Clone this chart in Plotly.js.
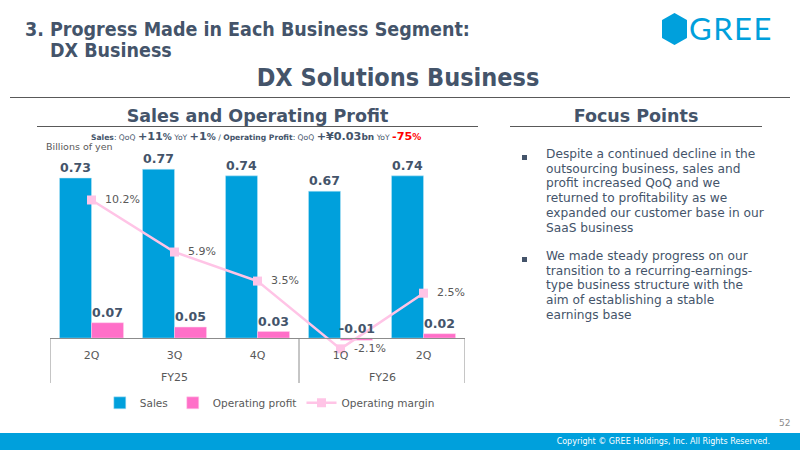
<!DOCTYPE html>
<html><head><meta charset="utf-8">
<script src="https://cdn.plot.ly/plotly-3.0.1.min.js"></script>
<style>
body{margin:0;width:800px;height:450px;overflow:hidden;background:#fff;position:relative;font-family:"DejaVu Sans",Verdana,sans-serif;color:#44546A;}
.abs{position:absolute;white-space:nowrap;}
.cond{font-family:"DejaVu Sans Condensed","DejaVu Sans",sans-serif;font-stretch:condensed;font-weight:bold;}
#chart{position:absolute;left:0;top:0;width:800px;height:450px;}
.bul{position:absolute;left:546px;font-size:12.2px;line-height:14.7px;color:#44546A;white-space:nowrap;}
.sq{position:absolute;left:522px;width:5px;height:5px;background:#44546A;}
</style></head><body>
<div id="chart"></div>

<div class="abs cond" style="left:25px;top:18px;font-size:19.5px;">3. Progress Made in Each Business Segment:</div>
<div class="abs cond" style="left:50px;top:39px;font-size:19.5px;">DX Business</div>
<svg class="abs" style="left:660px;top:12px;" width="30" height="36" viewBox="0 0 30 36">
  <polygon points="14.5,2 26,8.5 26,25.5 14.5,32 3,25.5 3,8.5" fill="#00A0DC" stroke="#00A0DC" stroke-width="2" stroke-linejoin="round"/>
</svg>
<div class="abs" style="left:689px;top:9px;font-family:Lato,'Open Sans',sans-serif;font-size:31px;font-weight:400;color:#00A0DC;letter-spacing:1.5px;">GREE</div>

<div class="abs cond" style="left:0;width:796px;text-align:center;top:63px;font-size:25px;">DX Solutions Business</div>
<div class="abs" style="left:10px;top:97px;width:780px;height:1px;background:#595959;"></div>

<div class="abs" style="left:37px;width:441px;text-align:center;top:106px;font-size:17.5px;font-weight:bold;">Sales and Operating Profit</div>
<div class="abs" style="left:37px;top:126px;width:441px;height:1px;background:#595959;"></div>
<div class="abs" style="left:510px;width:252px;text-align:center;top:106px;font-size:17.5px;font-weight:bold;">Focus Points</div>
<div class="abs" style="left:510px;top:126px;width:252px;height:1px;background:#595959;"></div>

<div class="abs" style="left:91px;top:130px;font-size:7.6px;color:#44546A;">
<b>Sales</b>: QoQ <b style="font-size:11.2px;">+11</b><b style="font-size:9px;">%</b> YoY <b style="font-size:11.2px;">+1</b><b style="font-size:9px;">%</b> / <b>Operating Profit</b>: QoQ <b style="font-size:11.2px;">+¥0.03</b><b style="font-size:9px;">bn</b> YoY <b style="font-size:11.2px;color:#FF0000;">-75</b><b style="font-size:9px;color:#FF0000;">%</b>
</div>
<div class="abs" style="left:46px;top:141px;font-size:9.5px;color:#595959;">Billions of yen</div>

<div class="sq" style="top:155px;"></div>
<div class="bul" style="top:147px;">Despite a continued decline in the<br>outsourcing business, sales and<br>profit increased QoQ and we<br>returned to profitability as we<br>expanded our customer base in our<br>SaaS business</div>
<div class="sq" style="top:257px;"></div>
<div class="bul" style="top:249px;">We made steady progress on our<br>transition to a recurring-earnings-<br>type business structure with the<br>aim of establishing a stable<br>earnings base</div>

<div class="abs" style="left:779px;top:418px;font-size:9px;color:#8c8c8c;">52</div>
<div class="abs" style="left:0;top:433px;width:800px;height:17px;background:#00A0DC;"></div>
<div class="abs" style="left:0;width:770px;text-align:right;top:437px;font-size:8px;color:#fff;">Copyright © GREE Holdings, Inc. All Rights Reserved.</div>

<script>
// ---- data ----
const fiscalYears = ['FY25', 'FY25', 'FY25', 'FY26', 'FY26'];
const quarters = ['2Q', '3Q', '4Q', '1Q', '2Q'];
const sales = [0.73, 0.77, 0.74, 0.67, 0.74];
const opProfit = [0.07, 0.05, 0.03, -0.01, 0.02];
const opMargin = [10.2, 5.9, 3.5, -2.1, 2.5];
const seriesNames = ['Sales', 'Operating profit', 'Operating margin'];

// ---- style ----
const BLUE = '#00A0DC', PINK = '#FF6FC8', LIGHTPINK = '#FFC4E6';
const TXT = '#44546A', GREY = '#595959', LINEC = '#8c8c8c';
const BARGAP = 0.229;
const AXIS_POS = 0.1048;   // x-axis (zero line) position in paper fraction
const BOX_BOTTOM = -0.1095; // bottom of category box
const FY_Y = -0.081;
const labelFont = {family: 'DejaVu Sans', size: 12.5, color: TXT};

const idx = quarters.map((_, i) => i);
const fmt = v => '<b>' + v.toFixed(2) + '</b>';

const traces = [
  {type: 'bar', name: seriesNames[0], x: idx, y: sales, marker: {color: BLUE, line: {color: '#BFE7F6', width: 0.5}},
   text: sales.map(fmt), textposition: 'outside', textfont: labelFont, cliponaxis: false, hoverinfo: 'skip'},
  {type: 'bar', name: seriesNames[1], x: idx, y: opProfit, marker: {color: PINK, line: {color: '#FFD0EC', width: 0.5}},
   text: opProfit.map(v => v >= 0 ? fmt(v) : ''), textposition: 'outside', textfont: labelFont, cliponaxis: false, hoverinfo: 'skip'},
  {type: 'scatter', name: seriesNames[2], x: idx, y: opMargin, yaxis: 'y2', mode: 'lines+markers+text',
   line: {color: LIGHTPINK, width: 2.5}, marker: {symbol: 'square', size: 9, color: LIGHTPINK},
   text: opMargin.map(v => '  ' + v.toFixed(1) + '%'), textposition: 'middle right',
   textfont: {family: 'DejaVu Sans', size: 11, color: GREY}, cliponaxis: false, hoverinfo: 'skip'}
];

// labels for negative operating-profit bars sit just above the baseline
const barW = (1 - BARGAP) / 2;
const annotations = [];
opProfit.forEach((v, i) => {
  if (v < 0) {
    annotations.push({xref: 'x', yref: 'y', x: i + barW / 2, y: 0,
      yanchor: 'bottom', showarrow: false, text: fmt(v), font: labelFont});
  }
});

// fiscal-year groups: label + divider lines of the category box
const shapes = [];
const groups = [];
fiscalYears.forEach((fy, i) => {
  if (!groups.length || groups[groups.length - 1].name !== fy) groups.push({name: fy, start: i, end: i});
  else groups[groups.length - 1].end = i;
});
const divider = xv => ({type: 'line', xref: 'x', yref: 'paper', x0: xv, x1: xv, y0: AXIS_POS, y1: BOX_BOTTOM,
  line: {color: LINEC, width: 1}});
groups.forEach((g, k) => {
  shapes.push(divider(g.start - 0.5));
  if (k === groups.length - 1) shapes.push(divider(g.end + 0.5));
  annotations.push({xref: 'x', yref: 'paper', x: (g.start + g.end) / 2, y: FY_Y, yanchor: 'middle',
    showarrow: false, text: g.name, font: {family: 'DejaVu Sans', size: 11, color: GREY}});
});

const layout = {
  width: 800, height: 450,
  margin: {l: 50, r: 335, t: 150, b: 90},
  paper_bgcolor: 'rgba(0,0,0,0)', plot_bgcolor: 'rgba(0,0,0,0)',
  barmode: 'group', bargap: BARGAP, bargroupgap: 0,
  showlegend: true,
  legend: {orientation: 'h', x: 0.12, xanchor: 'left', y: -0.135, yanchor: 'top',
    font: {family: 'DejaVu Sans', size: 10.5, color: GREY}, traceorder: 'normal'},
  xaxis: {type: 'linear', range: [-0.5, quarters.length - 0.5], anchor: 'free', position: AXIS_POS,
    tickmode: 'array', tickvals: idx, ticktext: quarters,
    showline: true, linecolor: LINEC, linewidth: 1, showgrid: false, zeroline: false,
    ticks: 'outside', ticklen: 7, tickcolor: 'rgba(0,0,0,0)',
    tickfont: {family: 'DejaVu Sans', size: 11, color: GREY}},
  yaxis: {range: [-0.100, 0.858], visible: false},
  yaxis2: {range: [-3.02, 14.33], overlaying: 'y', visible: false},
  annotations: annotations,
  shapes: shapes
};

Plotly.newPlot('chart', traces, layout, {staticPlot: true, displayModeBar: false});
</script>
</body></html>
